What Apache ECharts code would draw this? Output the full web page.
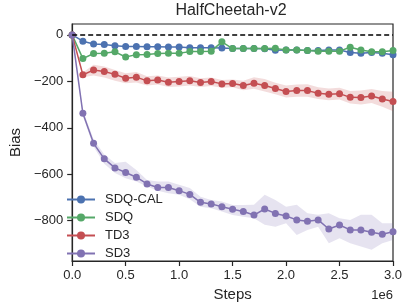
<!DOCTYPE html>
<html>
<head>
<meta charset="utf-8">
<script src="https://cdn.jsdelivr.net/npm/echarts@6/dist/echarts.min.js"></script>
<style>html,body{margin:0;padding:0;background:#fff}#c{width:410px;height:308px}</style>
</head>
<body>
<div id="c"></div>
<script>
// Steps in units of 1e6
const steps = [0,0.1,0.2,0.3,0.4,0.5,0.6,0.7,0.8,0.9,1.0,1.1,1.2,1.3,1.4,1.5,1.6,1.7,1.8,1.9,2.0,2.1,2.2,2.3,2.4,2.5,2.6,2.7,2.8,2.9,3.0];
const xTicks = [0,0.5,1.0,1.5,2.0,2.5,3.0];
const yTicks = [0,-200,-400,-600,-800];

const sdqCal = [0,-27,-39,-41,-47,-50,-50,-51,-51,-52,-52,-55,-55,-55,-56,-59,-59,-59,-60,-66,-65,-65,-67,-67,-65,-65,-76,-79,-76,-79,-85];
const sdq    = [0,-102,-80,-79,-73,-95,-85,-84,-80,-79,-79,-72,-72,-70,-30,-59,-59,-59,-59,-58,-65,-65,-67,-70,-70,-70,-53,-65,-73,-73,-67];
const td3    = [0,-172,-151,-158,-170,-187,-182,-198,-194,-204,-201,-197,-205,-201,-211,-209,-218,-208,-218,-231,-244,-240,-240,-251,-256,-253,-269,-270,-263,-276,-287];
const td3Up  = [0,-162,-129,-136,-151,-165,-160,-178,-175,-184,-180,-177,-187,-183,-194,-192,-198,-182,-190,-206,-218,-214,-213,-226,-231,-228,-242,-240,-233,-242,-245];
const td3Lo  = [0,-182,-175,-184,-198,-208,-205,-218,-214,-224,-222,-218,-224,-220,-228,-226,-238,-232,-244,-256,-270,-266,-266,-276,-281,-278,-296,-300,-293,-310,-329];
const sd3    = [0,-338,-467,-534,-573,-593,-613,-642,-657,-657,-671,-687,-721,-728,-740,-751,-761,-776,-750,-769,-780,-797,-803,-797,-836,-819,-840,-840,-850,-859,-848];
const sd3Up  = [0,-325,-450,-515,-552,-546,-582,-625,-632,-632,-646,-660,-697,-711,-718,-733,-733,-732,-689,-711,-740,-732,-768,-775,-768,-790,-797,-775,-775,-811,-811];
const sd3Lo  = [0,-350,-482,-555,-595,-618,-632,-653,-671,-682,-689,-708,-740,-747,-761,-776,-783,-790,-818,-826,-811,-862,-840,-826,-897,-876,-897,-912,-926,-897,-883];

const names = ['SDQ-CAL','SDQ','TD3','SD3'];
const colors = ['#4C72B0','#55A868','#C44E52','#8172B2'];
const textColor = '#262626';
const FONT = 'Liberation Sans, Arial, sans-serif';

function pairs(arr){ return steps.map((s,i)=>[s,arr[i]]); }
function lineSeries(name, arr, color, z){
  return {
    name, type:'line', data:pairs(arr), z,
    symbol:'circle', symbolSize:7, showAllSymbol:true,
    lineStyle:{color, width:1.5}, itemStyle:{color},
    emphasis:{disabled:true}, silent:true, animation:false
  };
}
function bandSeries(key, lo, up, color, z){
  const rows = steps.map((s,i)=>[s, lo[i], up[i]]);
  return {
    name:key, type:'custom', coordinateSystem:'cartesian2d', z, silent:true, animation:false,
    data:[rows[0]], encode:{x:0, y:[1,2]},
    renderItem:function(params, api){
      const ptsUp = rows.map(r=>api.coord([r[0], r[2]]));
      const ptsLo = rows.map(r=>api.coord([r[0], r[1]])).reverse();
      return {type:'polygon', shape:{points:ptsUp.concat(ptsLo)},
        style:{fill:color, opacity:0.2, stroke:'none'}};
    }
  };
}

const fmtY = v => v < 0 ? '\u2212' + (-v) : String(v);

const option = {
  animation:false,
  textStyle:{fontFamily:FONT},
  title:{text:'HalfCheetah-v2', left:231, top:3, textAlign:'center', padding:0,
    textStyle:{fontSize:16, fontWeight:'normal', color:textColor, fontFamily:FONT}},
  grid:{left:64, right:17, top:24, bottom:47, show:true, borderColor:textColor, borderWidth:1.2, backgroundColor:'transparent'},
  legend:{
    data:names, orient:'vertical', left:61, top:188, itemWidth:28, itemHeight:10, itemGap:5,
    textStyle:{fontSize:13, color:textColor, padding:[0,0,0,5]}, selectedMode:false
  },
  xAxis:{
    type:'value', min:0, max:3.0, interval:0.5,
    axisLine:{show:true, onZero:false, lineStyle:{color:textColor, width:1.2}},
    axisTick:{show:true, length:5, lineStyle:{color:textColor, width:1.2}},
    axisLabel:{fontSize:13, color:textColor, margin:8, formatter:v=>v.toFixed(1)},
    splitLine:{show:false},
    name:'Steps', nameLocation:'middle', nameGap:23,
    nameTextStyle:{fontSize:15, color:textColor}
  },
  yAxis:{
    type:'value', min:-974, max:47,
    axisLine:{show:true, onZero:false, lineStyle:{color:textColor, width:1.2}},
    axisTick:{show:true, length:5, customValues:yTicks, lineStyle:{color:textColor, width:1.2}},
    axisLabel:{fontSize:13, color:textColor, margin:9, customValues:yTicks, formatter:fmtY},
    splitLine:{show:false},
    name:'Bias', nameLocation:'middle', nameGap:42,
    nameTextStyle:{fontSize:15, color:textColor}
  },
  graphic:[{type:'text', right:17, top:289, style:{text:'1e6', fontSize:13, fill:textColor, fontFamily:FONT}}],
  series:[
    lineSeries(names[0], sdqCal, colors[0], 3),
    lineSeries(names[1], sdq, colors[1], 4),
    bandSeries('td3b', td3Lo, td3Up, colors[2], 2),
    lineSeries(names[2], td3, colors[2], 5),
    bandSeries('sd3b', sd3Lo, sd3Up, colors[3], 2),
    lineSeries(names[3], sd3, colors[3], 6),
    {name:'zero', type:'line', data:[[steps[0],0],[steps[steps.length-1],0]], symbol:'none',
     lineStyle:{color:'#000', width:1.5, type:[5,3]}, z:7, silent:true, animation:false}
  ]
};
const chart = echarts.init(document.getElementById('c'), null, {renderer:'canvas'});
chart.setOption(option);
</script>
</body>
</html>
